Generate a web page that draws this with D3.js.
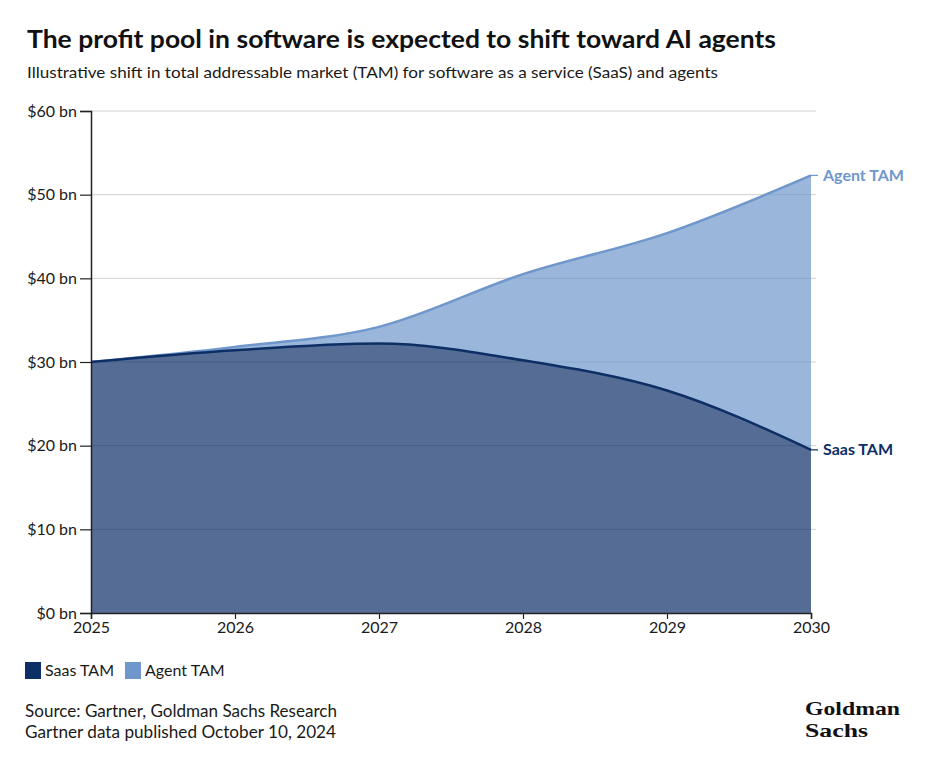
<!DOCTYPE html>
<html>
<head>
  <meta charset="utf-8">
  <script src="https://d3js.org/d3.v7.min.js"></script>
  <style>
    body { margin: 0; background: #fff; }
    text { font-family: Lato, "Open Sans", sans-serif; fill: #1a1a1a; }
  </style>
</head>
<body>
  <svg width="937" height="762"></svg>

  <script>
    // Data ($ bn)
    var years = [2025, 2026, 2027, 2028, 2029, 2030];
    var saasTam = [30, 31.4, 32.2, 30.2, 26.6, 19.5];
    var agentTam = [0, 0.4, 2.0, 10.3, 18.8, 32.8];   // stacked on top of SaaS
    var yTicks = [0, 10, 20, 30, 40, 50, 60];
    var seriesNames = ["Saas TAM", "Agent TAM"];
    var seriesColors = ["#0d2f66", "#6f97cb"];

    var svg = d3.select("svg");

    var x = d3.scaleLinear().domain([2025, 2030]).range([91, 811]);
    var y = d3.scaleLinear().domain([0, 60]).range([613, 111]);

    var rows = years.map((yr, i) => ({ year: yr, saas: saasTam[i], agent: agentTam[i] }));
    var stacked = d3.stack().keys(["saas", "agent"])(rows);

    // Title and subtitle
    svg.append("text")
      .attr("x", 27).attr("y", 48)
      .attr("font-size", 25).attr("font-weight", 700)
      .attr("textLength", 749).attr("lengthAdjust", "spacingAndGlyphs")
      .style("fill", "#111")
      .text("The profit pool in software is expected to shift toward AI agents");

    svg.append("text")
      .attr("x", 27).attr("y", 78)
      .attr("font-size", 15)
      .attr("textLength", 691).attr("lengthAdjust", "spacingAndGlyphs")
      .text("Illustrative shift in total addressable market (TAM) for software as a service (SaaS) and agents");

    // Gridlines
    svg.append("g")
      .selectAll("line")
      .data(yTicks.filter(d => d > 0))
      .enter()
      .append("line")
      .attr("x1", x(2025)).attr("x2", 816)
      .attr("y1", d => y(d)).attr("y2", d => y(d))
      .attr("stroke", "#cfcfcf")
      .attr("stroke-width", 1);

    // Areas
    var area = d3.area()
      .x(d => x(d.data.year))
      .y0(d => y(d[0]))
      .y1(d => y(d[1]))
      .curve(d3.curveMonotoneX);

    svg.append("g")
      .selectAll("path")
      .data(stacked)
      .enter()
      .append("path")
      .attr("d", area)
      .attr("fill", (d, i) => seriesColors[i])
      .attr("fill-opacity", 0.7);

    // Top lines
    var line = d3.line()
      .x(d => x(d.data.year))
      .y(d => y(d[1]))
      .curve(d3.curveMonotoneX);

    svg.append("g")
      .selectAll("path")
      .data(stacked.slice().reverse())
      .enter()
      .append("path")
      .attr("d", line)
      .attr("fill", "none")
      .attr("stroke", (d, i) => seriesColors[1 - i])
      .attr("stroke-width", 2.5);

    // Axes
    var yAxis = d3.axisLeft(y)
      .tickValues(yTicks)
      .tickSize(11)
      .tickPadding(3)
      .tickFormat(d => "$" + d + " bn");

    var yg = svg.append("g")
      .attr("transform", "translate(" + x(2025) + ",0)")
      .call(yAxis);
    yg.select(".domain").attr("stroke", "#222").attr("stroke-width", 1.5);
    yg.selectAll(".tick line").attr("stroke", "#222").attr("stroke-width", 1.2);
    yg.selectAll("text").attr("font-size", 16).style("font-family", "Lato").style("fill", "#1a1a1a");

    var xAxis = d3.axisBottom(x)
      .tickValues(years)
      .tickSize(6)
      .tickPadding(3)
      .tickFormat(d3.format("d"));

    var xg = svg.append("g")
      .attr("transform", "translate(0," + y(0) + ")")
      .call(xAxis);
    xg.select(".domain").attr("stroke", "#222").attr("stroke-width", 1.5);
    xg.selectAll(".tick line").attr("stroke", "#222").attr("stroke-width", 1.2);
    xg.selectAll("text").attr("font-size", 16).style("font-family", "Lato").style("fill", "#1a1a1a");

    // End labels
    var last = years.length - 1;
    var endLabels = [
      { name: "Agent TAM", value: stacked[1][last][1], color: seriesColors[1] },
      { name: "Saas TAM", value: stacked[0][last][1], color: seriesColors[0] }
    ];

    var ends = svg.append("g").selectAll("g")
      .data(endLabels)
      .enter()
      .append("g");

    ends.append("line")
      .attr("x1", x(2030)).attr("x2", x(2030) + 7)
      .attr("y1", d => y(d.value)).attr("y2", d => y(d.value))
      .attr("stroke", d => d.color)
      .attr("stroke-width", 1.2);

    ends.append("text")
      .attr("x", x(2030) + 12)
      .attr("y", d => y(d.value))
      .attr("dy", "0.35em")
      .attr("font-size", 16)
      .attr("font-weight", 700)
      .style("fill", d => d.color)
      .text(d => d.name);

    // Legend
    var legend = svg.append("g").attr("transform", "translate(25,662)");
    var legendX = [0, 100];
    seriesNames.forEach((name, i) => {
      legend.append("rect")
        .attr("x", legendX[i]).attr("y", 0)
        .attr("width", 16).attr("height", 17)
        .attr("fill", seriesColors[i]);
      legend.append("text")
        .attr("x", legendX[i] + 20).attr("y", 14)
        .attr("font-size", 16)
        .text(name);
    });

    // Source
    svg.append("text")
      .attr("x", 25).attr("y", 717)
      .attr("font-size", 16.5)
      .attr("textLength", 312).attr("lengthAdjust", "spacingAndGlyphs")
      .text("Source: Gartner, Goldman Sachs Research");
    svg.append("text")
      .attr("x", 25).attr("y", 738)
      .attr("font-size", 16.5)
      .attr("textLength", 311).attr("lengthAdjust", "spacingAndGlyphs")
      .text("Gartner data published October 10, 2024");

    // Goldman Sachs wordmark
    var logoLines = [
      { word: "Goldman", y: 715, len: 95 },
      { word: "Sachs", y: 737, len: 63 }
    ];
    logoLines.forEach(d => {
      svg.append("text")
        .attr("x", 805).attr("y", d.y)
        .attr("font-size", 19).attr("font-weight", 700)
        .attr("textLength", d.len).attr("lengthAdjust", "spacingAndGlyphs")
        .style("font-family", "'Liberation Serif', 'DejaVu Serif', serif")
        .style("fill", "#111")
        .text(d.word);
    });
  </script>
</body>
</html>
